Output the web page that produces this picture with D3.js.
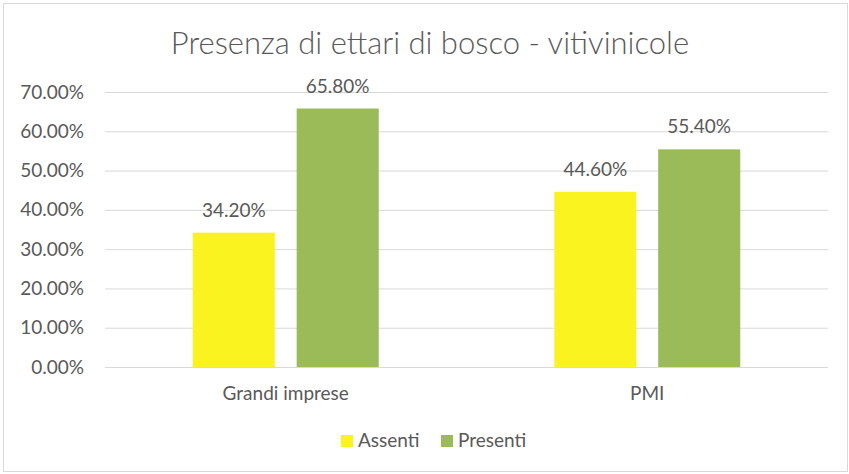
<!DOCTYPE html>
<html>
<head>
<meta charset="utf-8">
<script src="https://cdn.jsdelivr.net/npm/d3@7"></script>
<style>
  body { margin: 0; background: #fff; }
  text { font-family: Lato, "Open Sans", sans-serif; fill: #595959; }
  .grid line { stroke: #d9d9d9; stroke-width: 1; }
</style>
</head>
<body>
<div id="chart"></div>
<script>
const categories = ['Grandi imprese', 'PMI'];
const seriesNames = ['Assenti', 'Presenti'];
const assenti = [34.2, 44.6];
const presenti = [65.8, 55.4];
const yTicks = [0, 10, 20, 30, 40, 50, 60, 70];

const width = 849;
const height = 474;
const plot = {left: 105, right: 828, top: 92, bottom: 367};
const colors = ['#fbf31f', '#9bbb59'];
const fontSize = 19;

const svg = d3.select('#chart')
              .append('svg')
              .attr('width', width)
              .attr('height', height);

// chart frame
svg.append('rect')
   .attr('x', 3.5)
   .attr('y', 3.5)
   .attr('width', width - 5)
   .attr('height', height - 6)
   .attr('fill', '#fff')
   .attr('stroke', '#d9d9d9');

const x = d3.scaleBand()
            .domain(categories)
            .range([plot.left, plot.right]);

// two bars + gap inside each category
const groupWidth = 186;
const xInner = d3.scaleBand()
                 .domain(seriesNames)
                 .range([0, groupWidth])
                 .paddingInner(0.21);

const y = d3.scaleLinear()
            .domain([0, 70])
            .range([plot.bottom, plot.top]);

// gridlines + y labels
const yAxis = d3.axisLeft(y)
                .tickValues(yTicks)
                .tickSize(-(plot.right - plot.left))
                .tickPadding(21)
                .tickFormat((d) => d.toFixed(2) + '%');

const gy = svg.append('g')
              .attr('class', 'grid')
              .attr('transform', `translate(${plot.left},0)`)
              .call(yAxis);
gy.select('.domain').remove();
gy.selectAll('text')
  .attr('font-size', fontSize)
  .attr('fill', '#595959')
  .attr('font-family', 'Lato, "Open Sans", sans-serif');

// bars
const series = [assenti, presenti];
categories.forEach(function(cat, ci) {
  const groupX = x(cat) + (x.bandwidth() - groupWidth) / 2;
  seriesNames.forEach(function(name, si) {
    const v = series[si][ci];
    const bx = groupX + xInner(name);
    svg.append('rect')
       .attr('x', bx)
       .attr('y', y(v))
       .attr('width', xInner.bandwidth())
       .attr('height', y(0) - y(v))
       .attr('fill', colors[si]);

    svg.append('text')
       .attr('x', bx + xInner.bandwidth() / 2)
       .attr('y', y(v) - 16)
       .attr('text-anchor', 'middle')
       .attr('font-size', fontSize)
       .text(v.toFixed(2) + '%');
  });
});

// x labels
svg.selectAll('.xlabel')
   .data(categories)
   .enter()
   .append('text')
   .attr('class', 'xlabel')
   .attr('x', (d) => x(d) + x.bandwidth() / 2)
   .attr('y', 400)
   .attr('text-anchor', 'middle')
   .attr('font-size', fontSize)
   .text((d) => d);

// title
svg.append('text')
   .attr('x', 430)
   .attr('y', 54)
   .attr('text-anchor', 'middle')
   .attr('font-size', 31)
   .attr('font-weight', 300)
   .text('Presenza di ettari di bosco - vitivinicole');

// legend
const legendX = [341, 441];
seriesNames.forEach(function(name, i) {
  svg.append('rect')
     .attr('x', legendX[i])
     .attr('y', 435)
     .attr('width', 12)
     .attr('height', 12)
     .attr('fill', colors[i]);
  svg.append('text')
     .attr('x', legendX[i] + 17)
     .attr('y', 447)
     .attr('font-size', fontSize)
     .text(name);
});
</script>
</body>
</html>
